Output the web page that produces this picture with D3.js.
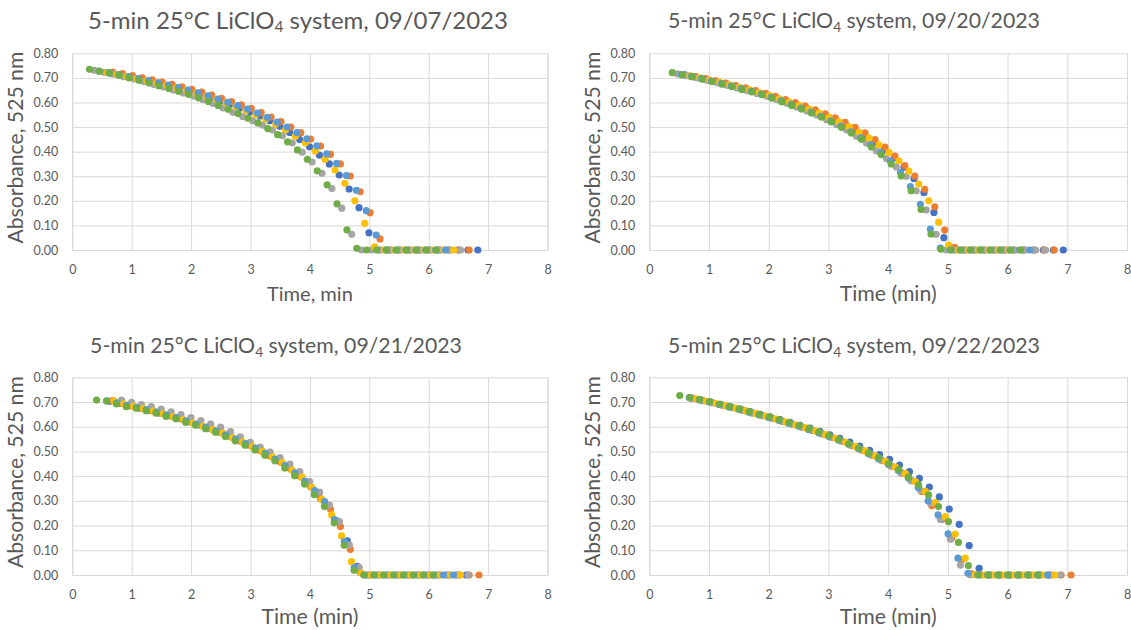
<!DOCTYPE html>
<html><head><meta charset="utf-8">
<script src="https://cdn.jsdelivr.net/npm/d3@7"></script>
<style>body{margin:0;background:#fff;} svg text{font-family:Lato,"Open Sans",sans-serif;}</style>
</head><body><svg id="c" width="1131" height="630"></svg>
<script>
// ---------- DATA ----------
const sampleStep = 1 / 6; // readings every 10 s (minutes)
const seriesColors = ["#4472C4", "#ED7D31", "#A5A5A5", "#FFC000", "#5B9BD5", "#70AD47"];
const xTicks = [0, 1, 2, 3, 4, 5, 6, 7, 8];
const yTicks = [0, 0.1, 0.2, 0.3, 0.4, 0.5, 0.6, 0.7, 0.8];
const titleDates = ["09/07/2023", "09/20/2023", "09/21/2023", "09/22/2023"];
const xTitles = ["Time, min", "Time (min)", "Time (min)", "Time (min)"];
const yTitle = "Absorbance, 525 nm";

// Panel 1: 09/07/2023  (first reading time of each run, min)
const p1Starts = [0.66, 0.68, 0.37, 0.59, 0.45, 0.29];
const p1Blue = [.718,.711,.703,.694,.686,.677,.667,.656,.645,.633,.620,.607,.593,.578,.562,.545,.526,.503,.478,.449,.420,.386,.350,.305,.248,.172,.070,0,0,0,0,0,0,0,0,0,0,0];
const p1Orange = [.724,.717,.709,.700,.692,.683,.674,.664,.653,.642,.630,.617,.604,.590,.576,.559,.541,.522,.500,.477,.451,.423,.389,.350,.301,.237,.152,.045,0,0,0,0,0,0,0,0,0];
const p1Gray = [.731,.723,.715,.705,.696,.685,.674,.663,.651,.639,.626,.611,.596,.578,.560,.543,.526,.508,.488,.465,.436,.398,.358,.312,.250,.170,.064,0,0,0,0,0,0,0,0,0,0,0];
const p1Yellow = [.721,.714,.706,.697,.689,.680,.670,.660,.649,.637,.625,.612,.598,.583,.568,.551,.533,.512,.489,.463,.436,.403,.369,.325,.271,.200,.108,.013,0,0,0,0,0,0,0,0];
const p1LightBlue = [.728,.721,.713,.705,.697,.689,.680,.671,.661,.650,.639,.627,.614,.601,.587,.573,.557,.539,.520,.500,.477,.452,.424,.391,.352,.303,.243,.160,.061,0,0,0,0,0,0,0];
const p1Green = [.735,.727,.720,.711,.700,.690,.679,.668,.657,.645,.633,.619,.604,.588,.572,.555,.536,.517,.494,.469,.440,.407,.369,.322,.265,.188,.082,.007,0,0,0,0,0,0,0,0];

// Panel 2: 09/20/2023
const p2Starts = [0.60, 0.78, 0.47, 0.68, 0.54, 0.385];
const p2Blue = [.712,.704,.695,.686,.676,.666,.655,.644,.632,.620,.606,.592,.577,.561,.544,.526,.506,.485,.462,.436,.407,.374,.337,.290,.233,.153,.050,0,0,0,0,0,0,0,0,0,0,0,0];
const p2Orange = [.705,.697,.688,.679,.669,.659,.648,.637,.625,.612,.599,.585,.570,.554,.537,.519,.499,.476,.449,.418,.382,.343,.301,.247,.176,.081,.011,0,0,0,0,0,0,0,0,0,0];
const p2Gray = [.716,.709,.700,.690,.680,.670,.659,.648,.637,.625,.611,.597,.582,.566,.549,.530,.510,.488,.463,.435,.404,.372,.338,.300,.241,.163,.064,0,0,0,0,0,0,0,0,0,0,0];
const p2Yellow = [.708,.700,.691,.682,.672,.662,.651,.640,.628,.615,.602,.588,.573,.557,.540,.521,.501,.479,.455,.428,.397,.363,.321,.268,.200,.113,.020,0,0,0,0,0,0];
const p2LightBlue = [.713,.706,.697,.687,.677,.667,.656,.645,.634,.621,.607,.592,.577,.561,.544,.525,.504,.481,.456,.428,.396,.361,.315,.258,.186,.085,.008,0,0,0,0,0,0,0,0,0];
const p2Green = [.721,.713,.705,.695,.685,.675,.664,.653,.643,.632,.618,.603,.588,.573,.557,.540,.521,.499,.476,.450,.419,.388,.350,.301,.241,.165,.065,.003,0,0,0,0,0,0,0,0];

// Panel 3: 09/21/2023
const p3Starts = [0.63, 0.68, 0.83, 0.70, 0.58, 0.41];
const p3Blue = [.703,.695,.685,.676,.666,.656,.645,.634,.621,.608,.594,.579,.563,.546,.527,.507,.486,.462,.435,.404,.370,.330,.282,.218,.138,.035,0,0,0,0,0,0,0,0,0,0,0];
const p3Orange = [.706,.694,.684,.675,.665,.654,.642,.630,.617,.604,.590,.576,.558,.540,.522,.502,.480,.456,.428,.398,.357,.309,.267,.196,.104,.010,0,0,0,0,0,0,0,0,0,0,0,0];
const p3Gray = [.708,.699,.690,.681,.671,.660,.649,.637,.625,.612,.598,.580,.559,.537,.518,.497,.475,.449,.418,.378,.335,.283,.216,.121,.031,0,0,0,0,0,0,0,0,0,0,0];
const p3Yellow = [.705,.692,.682,.673,.663,.652,.640,.628,.615,.602,.588,.574,.555,.538,.520,.500,.478,.455,.424,.396,.355,.306,.243,.158,.054,.007,0,0,0,0,0,0,0,0,0,0];
const p3LightBlue = [.705,.697,.687,.678,.669,.659,.648,.637,.624,.611,.598,.583,.567,.550,.532,.513,.492,.469,.443,.413,.380,.342,.297,.224,.135,.030,0,0,0,0,0,0,0,0,0,0];
const p3Green = [.708,.704,.692,.681,.675,.665,.655,.642,.632,.618,.606,.592,.578,.560,.543,.525,.506,.485,.462,.433,.402,.368,.325,.277,.211,.120,.019,0,0,0,0,0,0,0,0];

// Panel 4: 09/22/2023
const p4Starts = [0.69, 0.73, 0.71, 0.79, 0.67, 0.51];
const p4Blue = [.717,.710,.701,.691,.681,.671,.661,.650,.640,.629,.618,.606,.594,.581,.567,.553,.538,.522,.504,.487,.468,.445,.418,.391,.356,.316,.267,.205,.119,.027,0,0,0,0,0,0,0];
const p4Orange = [.715,.706,.697,.687,.677,.667,.656,.645,.634,.622,.610,.598,.585,.571,.556,.541,.523,.505,.485,.463,.440,.413,.381,.338,.280,.225,.150,.060,.005,0,0,0,0,0,0,0,0,0,0];
const p4Gray = [.716,.707,.698,.688,.678,.668,.657,.646,.635,.623,.611,.599,.586,.572,.557,.542,.525,.507,.487,.465,.441,.414,.382,.343,.290,.225,.145,.040,0,0,0,0,0,0,0,0,0,0];
const p4Yellow = [.712,.703,.694,.684,.674,.664,.653,.642,.631,.619,.607,.595,.582,.568,.553,.537,.520,.501,.481,.460,.437,.410,.378,.338,.293,.236,.166,.068,.002,0,0,0,0,0,0,0,0];
const p4LightBlue = [.718,.709,.700,.690,.680,.670,.659,.648,.637,.626,.614,.602,.589,.576,.561,.546,.529,.511,.491,.470,.448,.423,.394,.354,.300,.243,.167,.068,.007,0,0,0,0,0,0,0,0];
const p4Green = [.726,.718,.710,.702,.691,.681,.672,.661,.650,.640,.628,.617,.605,.592,.579,.563,.548,.530,.513,.493,.475,.451,.427,.396,.364,.324,.277,.216,.132,.038,0,0,0,0,0,0,0];

// ---------- LAYOUT ----------
const layout = [
  {x0: 72.3, x1: 547.5, y0: 53.3, y1: 250, titleX: 298, titleY: 23, titleW: 420, xtY: 296},
  {x0: 649.3, x1: 1127, y0: 53.3, y1: 250, titleX: 854, titleY: 23, titleW: 372, xtY: 296},
  {x0: 72.3, x1: 547.5, y0: 377.3, y1: 575, titleX: 276, titleY: 348, titleW: 372, xtY: 619},
  {x0: 649.3, x1: 1127, y0: 377.3, y1: 575, titleX: 854, titleY: 348, titleW: 372, xtY: 619}
];
const panelSeries = [
  [p1Starts, [p1Blue, p1Orange, p1Gray, p1Yellow, p1LightBlue, p1Green]],
  [p2Starts, [p2Blue, p2Orange, p2Gray, p2Yellow, p2LightBlue, p2Green]],
  [p3Starts, [p3Blue, p3Orange, p3Gray, p3Yellow, p3LightBlue, p3Green]],
  [p4Starts, [p4Blue, p4Orange, p4Gray, p4Yellow, p4LightBlue, p4Green]]
];
const xTitleW = [86, 97, 97, 97];
const yTitleW = 192;
const textColor = "#595959";
const gridColor = "#D9D9D9";

const svg = d3.select("#c");
svg.append("rect").attr("width", 1131).attr("height", 630).attr("fill", "#fff");

function fit(sel, target, base) {
  const w = sel.node().getBBox().width;
  if (w > 0) sel.attr("font-size", base * target / w);
}

layout.forEach((L, pi) => {
  const g = svg.append("g");
  const x = d3.scaleLinear().domain([0, 8]).range([L.x0, L.x1]);
  const y = d3.scaleLinear().domain([0, 0.8]).range([L.y1, L.y0]);

  // y grid + labels
  const ya = g.append("g").attr("transform", `translate(${L.x0},0)`)
    .call(d3.axisLeft(y).tickValues(yTicks).tickSize(-(L.x1 - L.x0)).tickPadding(14).tickFormat(d3.format(".2f")));
  ya.select(".domain").remove();
  ya.selectAll("line").attr("stroke", gridColor).attr("stroke-width", 1);
  ya.selectAll("text").attr("fill", textColor).attr("font-size", 12.5).style("font-family", "Lato");

  // x grid + labels
  const xa = g.append("g").attr("transform", `translate(0,${L.y1})`)
    .call(d3.axisBottom(x).tickValues(xTicks).tickSize(-(L.y1 - L.y0)).tickPadding(15).tickFormat(d3.format("d")));
  xa.select(".domain").attr("stroke", gridColor);
  xa.selectAll("line").attr("stroke", gridColor).attr("stroke-width", 1);
  xa.selectAll("text").attr("fill", textColor).attr("font-size", 12.5).style("font-family", "Lato");

  // points
  const [starts, series] = panelSeries[pi];
  series.forEach((vals, si) => {
    const pts = vals.map((v, i) => ({t: starts[si] + i * sampleStep, v}));
    g.append("g").selectAll("circle").data(pts).join("circle")
      .attr("cx", d => x(d.t)).attr("cy", d => y(d.v)).attr("r", 3.6)
      .attr("fill", seriesColors[si]);
  });

  // title
  const t = g.append("text").attr("x", L.titleX).attr("y", L.titleY)
    .attr("text-anchor", "middle").attr("dominant-baseline", "middle")
    .attr("fill", textColor).attr("font-size", 20);
  t.append("tspan").text("5-min 25°C LiClO");
  t.append("tspan").text("4").attr("font-size", "0.65em").attr("dy", "0.35em");
  t.append("tspan").text(" system, " + titleDates[pi]).attr("dy", "-0.23em");
  fit(t, L.titleW, 20);

  // x title
  const xt = g.append("text").attr("x", (L.x0 + L.x1) / 2).attr("y", L.xtY)
    .attr("text-anchor", "middle").attr("dominant-baseline", "middle")
    .attr("fill", textColor).attr("font-size", 17).text(xTitles[pi]);
  fit(xt, xTitleW[pi], 17);

  // y title
  const yt = g.append("text")
    .attr("transform", `translate(${L.x0 - 55},${(L.y0 + L.y1) / 2 - 4}) rotate(-90)`)
    .attr("text-anchor", "middle").attr("dominant-baseline", "middle")
    .attr("fill", textColor).attr("font-size", 17).text(yTitle);
  fit(yt, yTitleW, 17);
});
</script></body></html>
